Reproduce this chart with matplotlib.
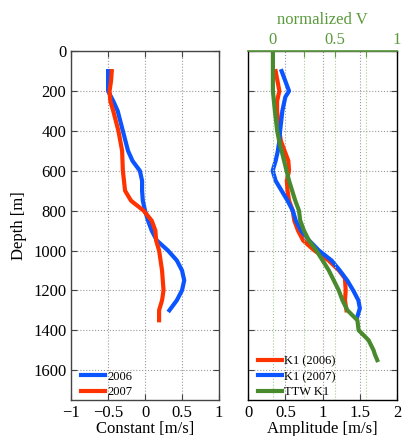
import numpy as np
import matplotlib
matplotlib.use("Agg")
import matplotlib.pyplot as plt

plt.rcParams['font.family'] = ['Liberation Serif', 'DejaVu Serif']

# left panel: constant term
depth_2006 = [100, 200, 250, 300, 400, 500, 550, 600, 650, 700, 750, 800, 850, 900,
              950, 1000, 1050, 1100, 1150, 1200, 1250, 1300]
const_2006 = [-0.50, -0.50, -0.43, -0.37, -0.30, -0.23, -0.17, -0.07, -0.04, -0.04,
              -0.03, 0.00, 0.04, 0.09, 0.16, 0.31, 0.43, 0.50, 0.53, 0.50, 0.43, 0.33]
depth_2007 = [100, 150, 200, 250, 300, 400, 500, 600, 700, 750, 800, 850, 900, 950,
              1000, 1100, 1200, 1250, 1300, 1350]
const_2007 = [-0.45, -0.46, -0.48, -0.47, -0.43, -0.36, -0.31, -0.30, -0.27, -0.19,
              -0.02, 0.09, 0.14, 0.15, 0.19, 0.23, 0.25, 0.23, 0.19, 0.19]

# right panel: K1 amplitude
depth_k1_2006 = [100, 200, 250, 300, 400, 450, 500, 550, 600, 650, 700, 750, 800, 850,
                 900, 950, 1000, 1050, 1100, 1140, 1200, 1250, 1300]
amp_k1_2006 = [0.37, 0.42, 0.39, 0.39, 0.42, 0.44, 0.49, 0.54, 0.55, 0.52, 0.53, 0.55,
               0.60, 0.62, 0.67, 0.74, 0.89, 1.08, 1.22, 1.30, 1.31, 1.30, 1.32]
depth_k1_2007 = [100, 150, 200, 230, 300, 400, 450, 500, 550, 600, 650, 700, 750, 800,
                 850, 900, 950, 1000, 1050, 1100, 1150, 1200, 1250, 1290, 1340]
amp_k1_2007 = [0.45, 0.50, 0.55, 0.50, 0.46, 0.43, 0.42, 0.40, 0.37, 0.33, 0.37, 0.45,
               0.53, 0.60, 0.64, 0.71, 0.82, 0.95, 1.12, 1.23, 1.33, 1.41, 1.48, 1.50, 1.46]
# TTW K1, normalized velocity (top axis)
depth_ttw = [0, 200, 300, 400, 450, 500, 550, 600, 650, 700, 750, 800, 850, 900, 950,
             1000, 1050, 1100, 1150, 1200, 1250, 1300, 1350, 1400, 1450, 1500, 1520, 1550]
norm_ttw = [0.0, 0.0, 0.016, 0.035, 0.05, 0.07, 0.09, 0.11, 0.13, 0.155, 0.18, 0.21,
            0.22, 0.25, 0.29, 0.35, 0.40, 0.45, 0.49, 0.53, 0.56, 0.60, 0.68, 0.69,
            0.77, 0.81, 0.82, 0.84]

blue = '#0a55ff'
red = '#ff3300'
green = '#4a8a2e'
green_ax = '#5b9a3c'
spine_c = '#444444'

fig = plt.figure(figsize=(4.04, 4.36), dpi=100)
ax1 = fig.add_axes([0.176, 0.0826, 0.366, 0.800])
ax2 = fig.add_axes([0.614, 0.0826, 0.369, 0.800])

fs = 12
for ax in (ax1, ax2):
    ax.set_ylim(1750, 0)
    ax.set_yticks(np.arange(0, 1601, 200))
    ax.grid(True, ls=':', color='#999999', lw=0.8)
    ax.tick_params(direction='in', length=4, labelsize=fs, color=spine_c,
                   right=True, top=False)
    for s in ax.spines.values():
        s.set_color(spine_c)
        s.set_linewidth(1.0)

leg_kw = dict(loc='lower left', frameon=False, fontsize=9, handlelength=1.9,
              borderaxespad=0.1, labelspacing=0.25, handletextpad=0.2,
              borderpad=0.2)

ax1.plot(const_2006, depth_2006, color=blue, lw=3, label='2006')
ax1.plot(const_2007, depth_2007, color=red, lw=3, label='2007')
ax1.set_xlim(-1, 1)
ax1.set_xticks([-1, -0.5, 0, 0.5, 1])
ax1.set_xticklabels(['\u22121', '\u22120.5', '0', '0.5', '1'])
ax1.set_xlabel('Constant [m/s]', fontsize=fs, labelpad=0)
ax1.set_ylabel('Depth [m]', fontsize=fs, labelpad=4)
ax1.tick_params(top=True)
ax1.legend(bbox_to_anchor=(0.04, -0.005), **leg_kw)

ax2.plot(amp_k1_2006, depth_k1_2006, color=red, lw=3, label='K1 (2006)')
ax2.plot(amp_k1_2007, depth_k1_2007, color=blue, lw=3, label='K1 (2007)')
ax2.set_xlim(0, 2)
ax2.set_xticks([0, 0.5, 1, 1.5, 2])
ax2.set_xticklabels(['0', '0.5', '1', '1.5', '2'])
ax2.set_yticklabels([])
ax2.set_xlabel('Amplitude [m/s]', fontsize=fs, labelpad=0)

ax3 = ax2.twiny()
ax3.plot(norm_ttw, depth_ttw, color=green, lw=3, label='TTW K1')
ax3.set_xlim(-0.2, 1)
ax3.set_ylim(1750, 0)
ax3.set_xticks([0, 0.25, 0.5, 0.75, 1])
ax3.set_xticklabels(['0', '', '0.5', '', '1'])
ax3.tick_params(direction='in', length=4, labelsize=fs, colors=green_ax, pad=2)
ax3.spines['top'].set_color(green_ax)
ax3.spines['top'].set_linewidth(1.2)
ax3.xaxis.grid(True, ls=':', color='#a8c898', lw=0.8)
ax3.set_xlabel('normalized V', fontsize=fs, color=green_ax, labelpad=6)

h1, l1 = ax2.get_legend_handles_labels()
h3, l3 = ax3.get_legend_handles_labels()
ax3.legend(h1 + h3, l1 + l3, bbox_to_anchor=(0.04, -0.005), **leg_kw)

fig.savefig('out.png', dpi=100)
